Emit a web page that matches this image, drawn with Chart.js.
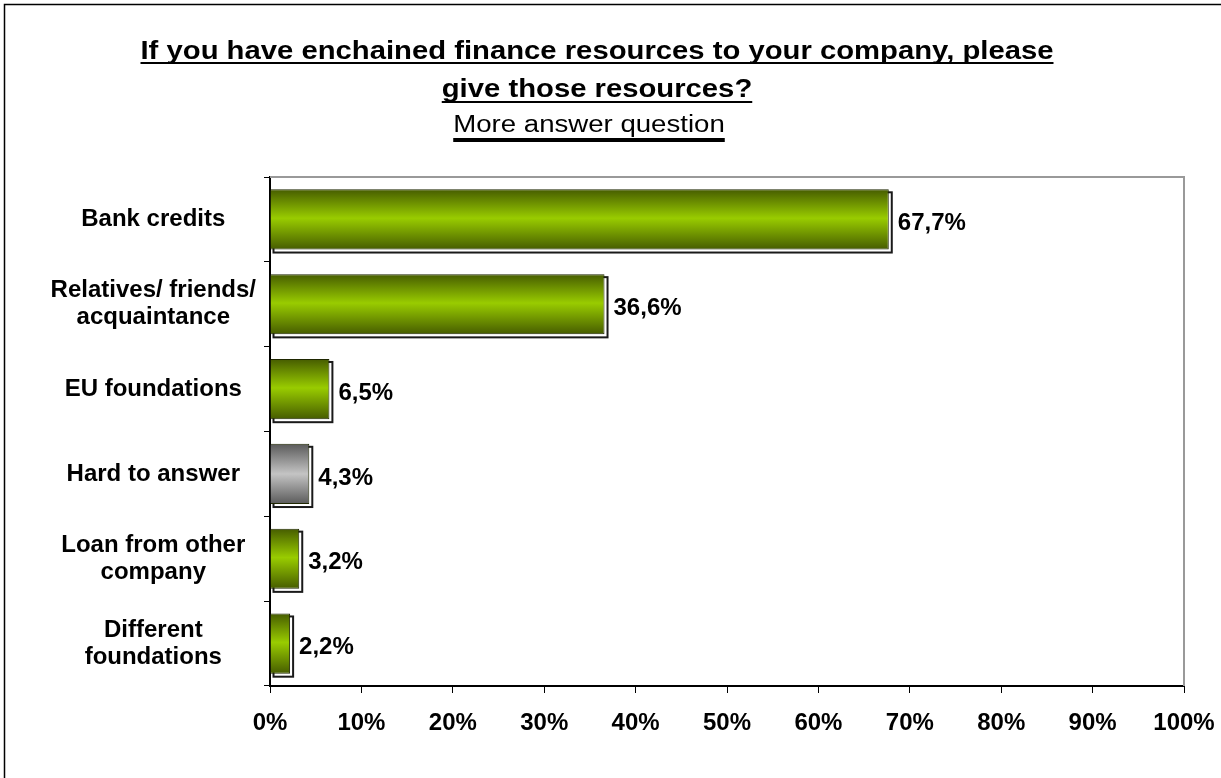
<!DOCTYPE html>
<html>
<head>
<meta charset="utf-8">
<script src="https://cdn.jsdelivr.net/npm/chart.js@4/dist/chart.umd.min.js"></script>
<style>
  html, body { margin: 0; padding: 0; background: #fff; }
  #wrap { width: 1221px; height: 778px; position: relative; }
</style>
</head>
<body>
<div id="wrap"><canvas id="chart"></canvas></div>
<script>
// survey answers, share of respondents (%)
const categories = [
  "Bank credits",
  ["Relatives/ friends/", "acquaintance"],
  "EU foundations",
  "Hard to answer",
  ["Loan from other", "company"],
  ["Different", "foundations"]
];
const shares = [67.7, 36.6, 6.5, 4.3, 3.2, 2.2];
const xTicks = [0, 10, 20, 30, 40, 50, 60, 70, 80, 90, 100];

const titleLines = [
  "If you have enchained finance resources to your company, please",
  "give those resources?"
];
const subtitle = "More answer question";

const FONT = "'Liberation Sans', Arial, sans-serif";
const BAR_FRAC = 0.71;

const fmt = v => v.toFixed(1).replace(".", ",") + "%";

function isNeutral(i) {
  return categories[i] === "Hard to answer";
}

// vertical shading across each bar, dark edges and a light middle
function barFill(c) {
  const chart = c.chart;
  const ys = chart.scales.y;
  const neutral = isNeutral(c.dataIndex);
  if (!ys || !ys.height) return neutral ? "#aaa" : "#88b400";
  const cy = ys.getPixelForValue(c.dataIndex);
  const half = ys.height / categories.length * BAR_FRAC / 2;
  const g = chart.ctx.createLinearGradient(0, cy - half, 0, cy + half);
  if (neutral) {
    g.addColorStop(0, "#5a5a5a");
    g.addColorStop(0.5, "#c4c4c4");
    g.addColorStop(1, "#5a5a5a");
  } else {
    g.addColorStop(0, "#465c00");
    g.addColorStop(0.48, "#99cc00");
    g.addColorStop(1, "#465c00");
  }
  return g;
}

const frame = {
  id: "frame",
  beforeDraw(chart) {
    const ctx = chart.ctx;
    ctx.save();
    ctx.strokeStyle = "#000";
    ctx.lineWidth = 1.5;
    ctx.strokeRect(4.5, 4.5, 1400, 1000);
    ctx.restore();
  },
  beforeDatasetsDraw(chart) {
    const ctx = chart.ctx;
    const a = chart.chartArea;
    ctx.save();
    // plot border, top and right edges
    ctx.strokeStyle = "#999";
    ctx.lineWidth = 2;
    ctx.beginPath();
    ctx.moveTo(a.left, a.top);
    ctx.lineTo(a.right, a.top);
    ctx.lineTo(a.right, a.bottom);
    ctx.stroke();
    // drop shadow outline behind every bar
    chart.getDatasetMeta(0).data.forEach(el => {
      const p = el.getProps(["x", "y", "base", "height"], true);
      const left = Math.min(p.x, p.base);
      const w = Math.abs(p.x - p.base);
      ctx.fillStyle = "#fff";
      ctx.strokeStyle = "#1a1a1a";
      ctx.lineWidth = 2;
      ctx.fillRect(left + 3, p.y - p.height / 2 + 3, w, p.height);
      ctx.strokeRect(left + 3, p.y - p.height / 2 + 3, w, p.height);
    });
    ctx.restore();
  },
  afterDatasetsDraw(chart) {
    const ctx = chart.ctx;
    ctx.save();
    ctx.fillStyle = "#000";
    ctx.font = "bold 24px " + FONT;
    ctx.textBaseline = "middle";
    ctx.textAlign = "left";
    chart.getDatasetMeta(0).data.forEach((el, i) => {
      ctx.fillText(fmt(shares[i]), el.x + 9, el.y + 4);
    });
    ctx.restore();
  },
  afterDraw(chart) {
    const ctx = chart.ctx;
    ctx.save();
    ctx.fillStyle = "#000";
    ctx.strokeStyle = "#000";
    ctx.textAlign = "center";
    ctx.textBaseline = "alphabetic";
    const line = (text, font, sx, cx, y, ulY, ulW) => {
      ctx.font = font;
      const w = ctx.measureText(text).width * sx;
      ctx.save();
      ctx.translate(cx, y);
      ctx.scale(sx, 1);
      ctx.fillText(text, 0, 0);
      ctx.restore();
      ctx.lineWidth = ulW;
      ctx.beginPath();
      ctx.moveTo(cx - w / 2, ulY);
      ctx.lineTo(cx + w / 2, ulY);
      ctx.stroke();
    };
    line(titleLines[0], "bold 26px " + FONT, 1.125, 597, 59, 63, 2);
    line(titleLines[1], "bold 26px " + FONT, 1.125, 597, 97, 102, 2);
    line(subtitle, "23px " + FONT, 1.2, 589, 132, 140, 4);
    ctx.restore();
  }
};

new Chart(document.getElementById("chart"), {
  type: "bar",
  data: {
    labels: categories,
    datasets: [{
      data: shares,
      backgroundColor: barFill,
      borderColor: "#1e2600",
      borderWidth: 1,
      barPercentage: BAR_FRAC,
      categoryPercentage: 1
    }]
  },
  options: {
    indexAxis: "y",
    responsive: true,
    maintainAspectRatio: false,
    animation: false,
    layout: { padding: { top: 177, right: 37, left: 0, bottom: 0 } },
    plugins: {
      legend: { display: false },
      tooltip: { enabled: false },
      title: { display: false }
    },
    scales: {
      x: {
        min: 0,
        max: 100,
        afterBuildTicks: s => { s.ticks = xTicks.map(v => ({ value: v })); },
        afterFit: s => { s.height = 92; s.paddingLeft = 0; s.paddingRight = 0; },
        grid: { drawOnChartArea: false, tickLength: 7, color: "#000", lineWidth: 1 },
        border: { color: "#000", width: 2 },
        ticks: {
          padding: 16,
          color: "#000",
          font: { family: FONT, size: 24, weight: "bold" },
          callback: v => v + "%"
        }
      },
      y: {
        afterFit: s => { s.width = 270; },
        grid: { drawOnChartArea: false, tickLength: 6, color: "#000", lineWidth: 1, offset: true },
        border: { color: "#000", width: 2 },
        ticks: {
          crossAlign: "center",
          padding: 8,
          color: "#000",
          font: { family: FONT, size: 24, weight: "bold", lineHeight: 1.12 }
        }
      }
    }
  },
  plugins: [frame]
});
</script>
</body>
</html>
